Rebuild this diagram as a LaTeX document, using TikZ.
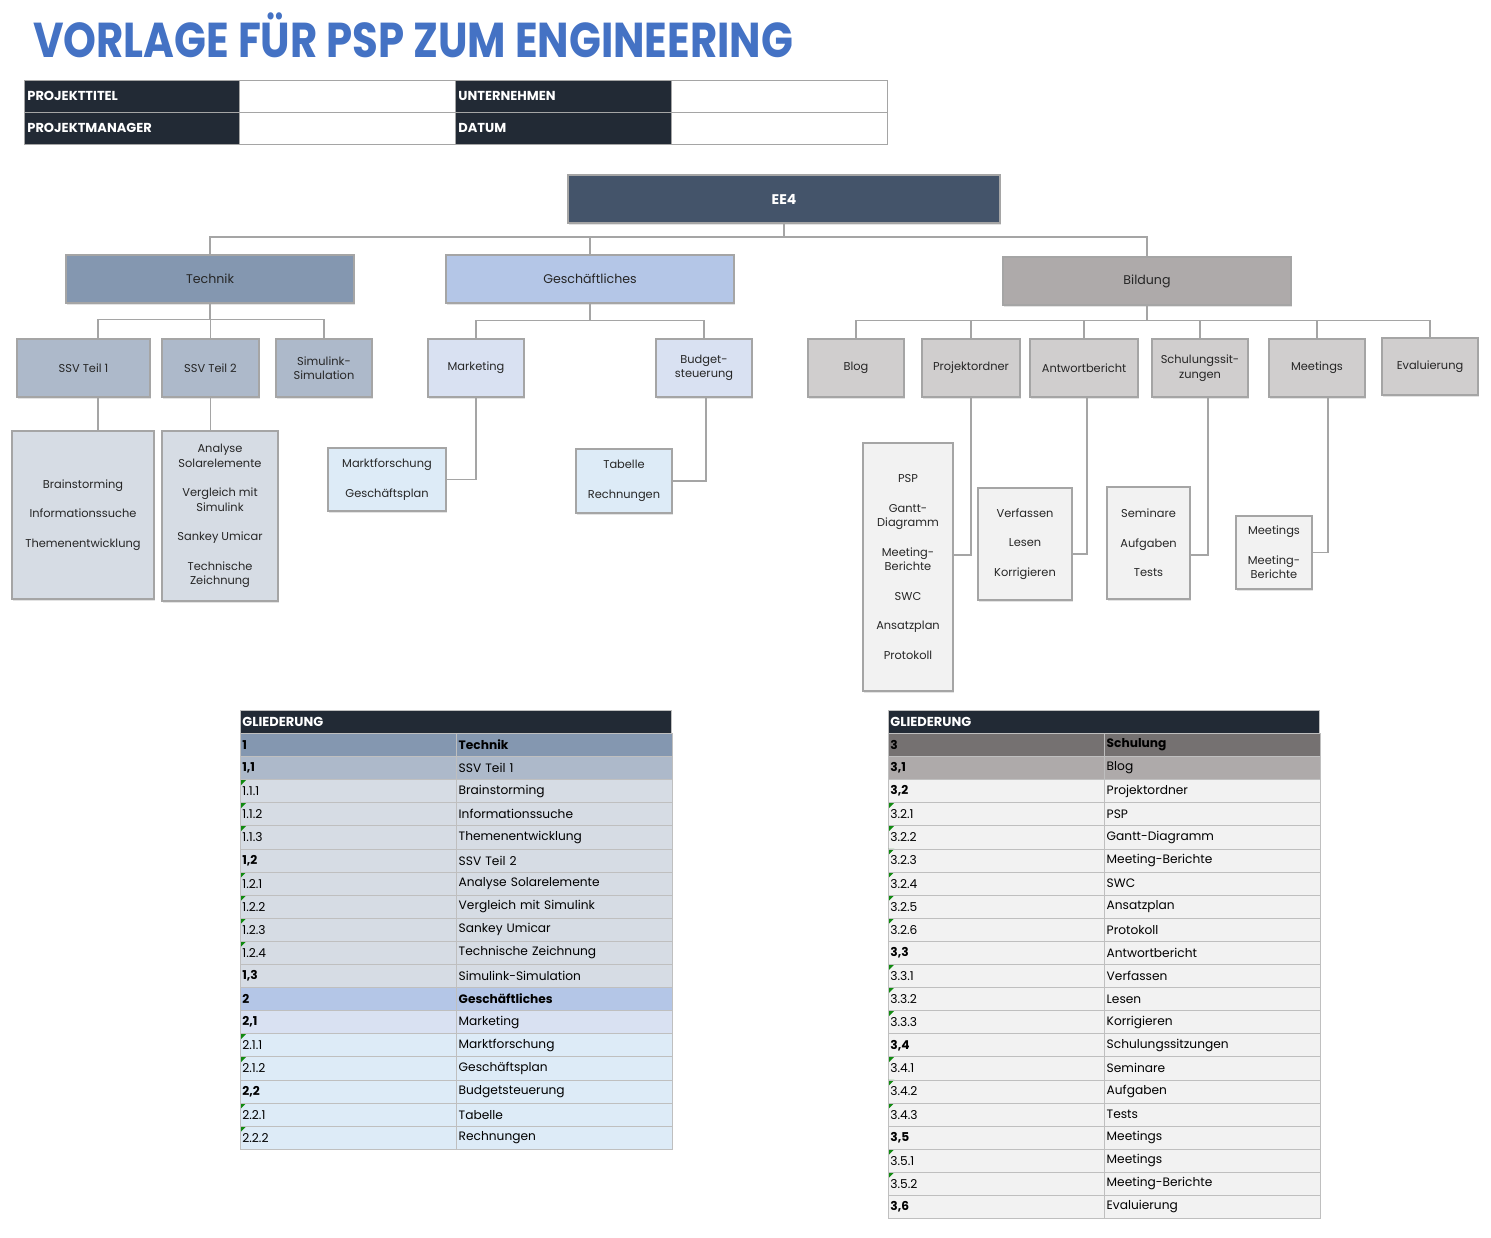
\documentclass[tikz,border=0pt]{standalone}
\usepackage{fontspec}
\setmainfont{Poppins}
\usetikzlibrary{positioning,shadows}
\definecolor{navy}{HTML}{44546A}
\definecolor{darkcell}{HTML}{222A35}
\definecolor{titleblue}{HTML}{4472C4}
\definecolor{techA}{HTML}{8497B0}
\definecolor{techB}{HTML}{ADB9CA}
\definecolor{techC}{HTML}{D6DCE4}
\definecolor{bizA}{HTML}{B4C6E7}
\definecolor{bizB}{HTML}{D9E1F2}
\definecolor{bizC}{HTML}{DDEBF7}
\definecolor{eduH}{HTML}{757171}
\definecolor{eduA}{HTML}{AEAAAA}
\definecolor{eduB}{HTML}{D0CECE}
\definecolor{eduC}{HTML}{F2F2F2}
\definecolor{linegray}{HTML}{A5A5A5}
\definecolor{gridgray}{HTML}{BFBFBF}
\definecolor{flag}{HTML}{108A10}
\definecolor{ink}{HTML}{262626}

\begin{document}
\begin{tikzpicture}[
    x=1pt, y=-1pt,
    box/.style={rectangle, draw=linegray, line width=1.2pt, inner sep=2pt,
                align=center, text=ink, font=\fontsize{11.4}{14.5}\selectfont,
                drop shadow={shadow xshift=0.6pt, shadow yshift=-2.2pt,
                             fill=black!18, opacity=0.6}},
    top/.style={box, minimum width=288, minimum height=48,
                font=\fontsize{12.6}{14}\selectfont},
    mid/.style={box, minimum width=96, minimum height=58},
    link/.style={draw=linegray, line width=1.6pt},
    hdr/.style={rectangle, draw=linegray, line width=0.8pt, anchor=north west,
                minimum width=216, minimum height=32, inner xsep=3pt,
                text width=210pt, align=left, text=white,
                font=\fontsize{13}{14}\selectfont\bfseries},
    cell/.style={rectangle, draw=gridgray, line width=0.8pt, anchor=north west,
                 minimum width=215.5, minimum height=23.1, inner xsep=2pt,
                 inner ysep=0pt, text width=211.5pt, align=left, text=black,
                 font=\fontsize{12.2}{13}\selectfont},
    codetop/.style={font=\fontsize{12.2}{13}\selectfont\bfseries},
    codesub/.style={font=\fontsize{12.2}{13}\selectfont\bfseries},
    codeleaf/.style={path picture={\fill[flag] (path picture bounding box.north west)
                     -- ++(6pt,0) -- ++(-6pt,-6pt) -- cycle;}},
    txttop/.style={font=\fontsize{12.2}{13}\selectfont\bfseries},
    txtsub/.style={},
    txtleaf/.style={},
]
\useasboundingbox (0,0) rectangle (1491,1237);

% Title and project header.
\node[anchor=base west, inner sep=0pt, text=titleblue] (title) at (33,57)
  {\resizebox{760pt}{\height}{\fontsize{49}{49}\selectfont\bfseries VORLAGE FÜR PSP ZUM ENGINEERING}};
\foreach \lab/\x/\y/\f [count=\i] in {PROJEKTTITEL/24/80/darkcell, /239/80/white,
    UNTERNEHMEN/455/80/darkcell, /671/80/white, PROJEKTMANAGER/24/112/darkcell,
    /239/112/white, DATUM/455/112/darkcell, /671/112/white} {
  \node[hdr, fill=\f] (hc\i) at (\x,\y) {\lab};
}

% Tree: top levels.
\node[box, fill=navy, text=white, minimum width=432, minimum height=48,
      font=\fontsize{14}{15}\selectfont\bfseries] (ee4) at (784,199) {EE4};
\node[top, fill=techA] (technik) at (210,279) {Technik};
\node[top, fill=bizA] (geschaeft) at (590,279) {Geschäftliches};
\node[top, fill=eduA] (bildung) at (1147,281) {Bildung};

% Second level.
\node[mid, fill=techB, minimum width=133] (ssv1) at (83.5,368) {SSV Teil 1};
\node[mid, fill=techB, minimum width=97] (ssv2) at (210.5,368) {SSV Teil 2};
\node[mid, fill=techB] (simu) at (324,368) {Simulink-\\Simulation};
\node[mid, fill=bizB] (mkt) at (476,368) {Marketing};
\node[mid, fill=bizB] (budget) at (704,368) {Budget-\\steuerung};
\node[mid, fill=eduB] (blog) at (856,368) {Blog};
\node[mid, fill=eduB, minimum width=98] (projekt) at (971,368) {Projektordner};
\node[mid, fill=eduB, minimum width=108] (antwort) at (1084,368) {Antwortbericht};
\node[mid, fill=eduB] (schulung) at (1200,368) {Schulungssit-\\zungen};
\node[mid, fill=eduB] (meet) at (1317,368) {Meetings};
\node[mid, fill=eduB, minimum height=57] (eval) at (1430,366.5) {Evaluierung};

% Third level.
\node[box, fill=techC, minimum width=142, minimum height=168] (brain) at (83,515)
  {Brainstorming\\[15pt]Informationssuche\\[15pt]Themenentwicklung};
\node[box, fill=techC, minimum width=116, minimum height=170] (solar) at (220,516)
  {Analyse\\Solarelemente\\[15pt]Vergleich mit\\Simulink\\[15pt]Sankey Umicar\\[15pt]Technische\\Zeichnung};
\node[box, fill=bizC, minimum width=118, minimum height=63] (markt) at (387,479.5)
  {Marktforschung\\[15pt]Geschäftsplan};
\node[box, fill=bizC, minimum width=96, minimum height=64] (tabelle) at (624,481)
  {Tabelle\\[15pt]Rechnungen};
\node[box, fill=eduC, minimum width=90, minimum height=248] (psp) at (908,567)
  {PSP\\[15pt]Gantt-\\Diagramm\\[15pt]Meeting-\\Berichte\\[15pt]SWC\\[15pt]Ansatzplan\\[15pt]Protokoll};
\node[box, fill=eduC, minimum width=94, minimum height=112] (verf) at (1025,544)
  {Verfassen\\[15pt]Lesen\\[15pt]Korrigieren};
\node[box, fill=eduC, minimum width=83, minimum height=112] (semi) at (1148.5,543)
  {Seminare\\[15pt]Aufgaben\\[15pt]Tests};
\node[box, fill=eduC, minimum width=76, minimum height=73] (mtg) at (1274,552.5)
  {Meetings\\[15pt]Meeting-\\Berichte};

% Connectors.
\coordinate (topbus) at (784,237);
\draw[link] (ee4.south) -- (topbus);
\draw[link] (technik.north) |- (topbus) -| (bildung.north);
\draw[link] (geschaeft.north) -- (geschaeft.north |- topbus);

\draw[link] (technik.south) -- ++(0,16) coordinate (tbus);
\draw[link] ([xshift=14.5pt]ssv1.north) |- (tbus) -| (simu.north);
\draw[link] (ssv2.north) -- (ssv2.north |- tbus);
\draw[link] (geschaeft.south) -- ++(0,17) coordinate (gbus);
\draw[link] (mkt.north) |- (gbus) -| (budget.north);
\draw[link] (bildung.south) -- ++(0,15) coordinate (bbus);
\draw[link] (blog.north) |- (bbus) -| (eval.north);
\foreach \n in {projekt,antwort,schulung,meet} {
  \draw[link] (\n.north) -- (\n.north |- bbus);
}

\draw[link] ([xshift=14.5pt]ssv1.south) -- ([xshift=14.5pt]ssv1.south |- brain.north);
\draw[link] (ssv2.south) -- (ssv2.south |- solar.north);
\draw[link] (mkt.south) |- (markt.east);
\draw[link] ([xshift=2pt]budget.south) |- (tabelle.east);
\draw[link] (projekt.south) |- ([yshift=12pt]psp.east);
\draw[link] ([xshift=3pt]antwort.south) |- ([yshift=-10pt]verf.east);
\draw[link] ([xshift=8pt]schulung.south) |- ([yshift=-12pt]semi.east);
\draw[link] ([xshift=11pt]meet.south) |- (mtg.east);

% Outline tables.
\node[cell, fill=darkcell, text=white, minimum width=431, text width=427pt,
      font=\fontsize{13}{14}\selectfont\bfseries] (glA) at (240,710) {GLIEDERUNG};
\foreach \code/\txt/\col/\kind [count=\i] in {
    1/Technik/techA/top, {1,1}/SSV Teil 1/techB/sub,
    1.1.1/Brainstorming/techC/leaf, 1.1.2/Informationssuche/techC/leaf,
    1.1.3/Themenentwicklung/techC/leaf, {1,2}/SSV Teil 2/techC/sub,
    1.2.1/Analyse Solarelemente/techC/leaf, 1.2.2/Vergleich mit Simulink/techC/leaf,
    1.2.3/Sankey Umicar/techC/leaf, 1.2.4/Technische Zeichnung/techC/leaf,
    {1,3}/Simulink-Simulation/techC/sub, 2/Geschäftliches/bizA/top,
    {2,1}/Marketing/bizB/sub, 2.1.1/Marktforschung/bizC/leaf,
    2.1.2/Geschäftsplan/bizC/leaf, {2,2}/Budgetsteuerung/bizC/sub,
    2.2.1/Tabelle/bizC/leaf, 2.2.2/Rechnungen/bizC/leaf} {
  \node[cell, fill=\col, code\kind] (la\i) at (240,{733+(\i-1)*23.1}) {\code};
  \node[cell, fill=\col, txt\kind] (lb\i) at (la\i.north east) {\txt};
}

\node[cell, fill=darkcell, text=white, minimum width=431, text width=427pt,
      font=\fontsize{13}{14}\selectfont\bfseries] (glB) at (888,710) {GLIEDERUNG};
\foreach \code/\txt/\col/\kind [count=\i] in {
    3/Schulung/eduH/top, {3,1}/Blog/eduA/sub, {3,2}/Projektordner/eduC/sub,
    3.2.1/PSP/eduC/leaf, 3.2.2/Gantt-Diagramm/eduC/leaf,
    3.2.3/Meeting-Berichte/eduC/leaf, 3.2.4/SWC/eduC/leaf,
    3.2.5/Ansatzplan/eduC/leaf, 3.2.6/Protokoll/eduC/leaf,
    {3,3}/Antwortbericht/eduC/sub, 3.3.1/Verfassen/eduC/leaf,
    3.3.2/Lesen/eduC/leaf, 3.3.3/Korrigieren/eduC/leaf,
    {3,4}/Schulungssitzungen/eduC/sub, 3.4.1/Seminare/eduC/leaf,
    3.4.2/Aufgaben/eduC/leaf, 3.4.3/Tests/eduC/leaf,
    {3,5}/Meetings/eduC/sub, 3.5.1/Meetings/eduC/leaf,
    3.5.2/Meeting-Berichte/eduC/leaf, {3,6}/Evaluierung/eduC/sub} {
  \node[cell, fill=\col, code\kind] (ra\i) at (888,{733+(\i-1)*23.1}) {\code};
  \node[cell, fill=\col, txt\kind] (rb\i) at (ra\i.north east) {\txt};
}
\end{tikzpicture}
\end{document}
